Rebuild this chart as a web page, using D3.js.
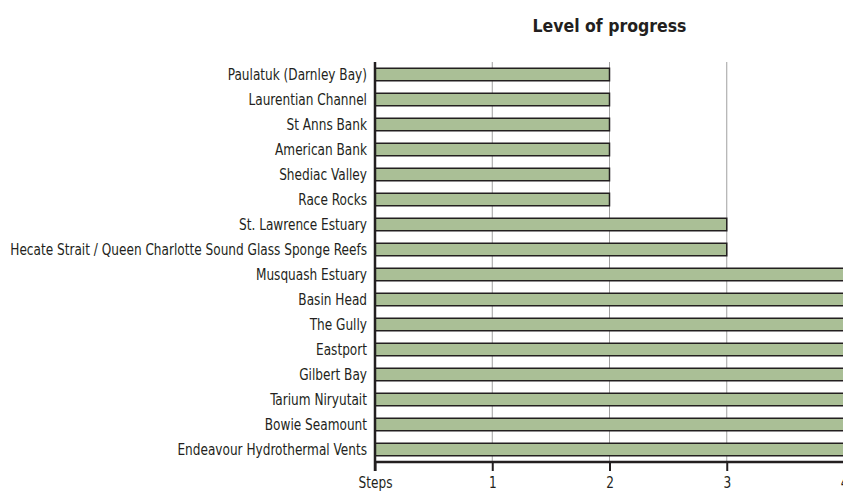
<!DOCTYPE html>
<html lang="en">
<head>
<meta charset="UTF-8">
<title>Level of progress</title>
<script src="https://cdn.jsdelivr.net/npm/d3@7"></script>
<style>
  body { margin: 0; background: #fff; }
  svg { display: block; font-family: "DejaVu Sans Condensed", "Liberation Sans Narrow", sans-serif; }
</style>
</head>
<body>
<script>
// data
const sites = [
  'Paulatuk (Darnley Bay)', 'Laurentian Channel', 'St Anns Bank', 'American Bank',
  'Shediac Valley', 'Race Rocks', 'St. Lawrence Estuary',
  'Hecate Strait / Queen Charlotte Sound Glass Sponge Reefs',
  'Musquash Estuary', 'Basin Head', 'The Gully', 'Eastport', 'Gilbert Bay',
  'Tarium Niryutait', 'Bowie Seamount', 'Endeavour Hydrothermal Vents'
];
const levels = [2, 2, 2, 2, 2, 2, 3, 3, 4, 4, 4, 4, 4, 4, 4, 4];
const tickValues = [0, 1, 2, 3, 4];
const tickLabels = ['Steps', '1', '2', '3', '4'];

const W = 843, H = 491;
const plotL = 375, plotR = 844, plotT = 62, plotB = 462;
const labelRoom = 357; // widest label should span this much

const svg = d3.select('body').append('svg')
  .attr('width', W).attr('height', H);

const x = d3.scaleLinear().domain([0, 4]).range([plotL, plotR]);
const y = d3.scaleBand().domain(sites).range([plotT, plotB]).paddingInner(0.5).paddingOuter(0.25);

// title
svg.append('text')
  .attr('x', (plotL + plotR) / 2).attr('y', 32)
  .attr('text-anchor', 'middle')
  .style('font-size', '17.5px').style('font-weight', 'bold').style('fill', '#231f20')
  .text('Level of progress');

// grid lines
svg.append('g').selectAll('line')
  .data([1, 2, 3])
  .join('line')
  .attr('x1', d => x(d)).attr('x2', d => x(d))
  .attr('y1', plotT).attr('y2', plotB)
  .style('stroke', '#a0a0a0').style('stroke-width', 1);

// bars
svg.append('g').selectAll('rect')
  .data(sites)
  .join('rect')
  .attr('x', x(0))
  .attr('y', d => y(d))
  .attr('width', (d, i) => x(levels[i]) - x(0))
  .attr('height', y.bandwidth())
  .style('fill', '#aabf96')
  .style('stroke', '#231f20')
  .style('stroke-width', 1.5);

// y labels (squeezed sideways to look like the narrow face in the original)
const labels = svg.append('g').selectAll('text')
  .data(sites)
  .join('text')
  .attr('text-anchor', 'end')
  .attr('dy', '0.35em')
  .style('font-size', '16px').style('fill', '#231f20')
  .text(d => d);

const widest = d3.max(labels.nodes(), n => n.getComputedTextLength());
const k = Math.min(1, labelRoom / widest);
labels.attr('transform', d => `translate(${plotL - 8},${y(d) + y.bandwidth() / 2}) scale(${k},1)`);

// x axis
const xAxis = d3.axisBottom(x)
  .tickValues(tickValues)
  .tickFormat((d, i) => tickLabels[i])
  .tickSize(9)
  .tickPadding(6);

const gx = svg.append('g')
  .attr('transform', `translate(0,${plotB})`)
  .call(xAxis);
gx.select('.domain').remove();
gx.selectAll('.tick line').style('stroke', '#231f20').style('stroke-width', 2);
gx.selectAll('.tick text')
  .attr('transform', `scale(${k},1)`)
  .style('font-family', '"DejaVu Sans Condensed", "Liberation Sans Narrow", sans-serif')
  .style('font-size', '16px').style('fill', '#231f20');

// axis lines
svg.append('line')
  .attr('x1', plotL).attr('x2', plotR)
  .attr('y1', plotB).attr('y2', plotB)
  .style('stroke', '#231f20').style('stroke-width', 2.5);
svg.append('line')
  .attr('x1', plotL).attr('x2', plotL)
  .attr('y1', plotT).attr('y2', plotB + 9)
  .style('stroke', '#231f20').style('stroke-width', 2.5);
</script>
</body>
</html>
